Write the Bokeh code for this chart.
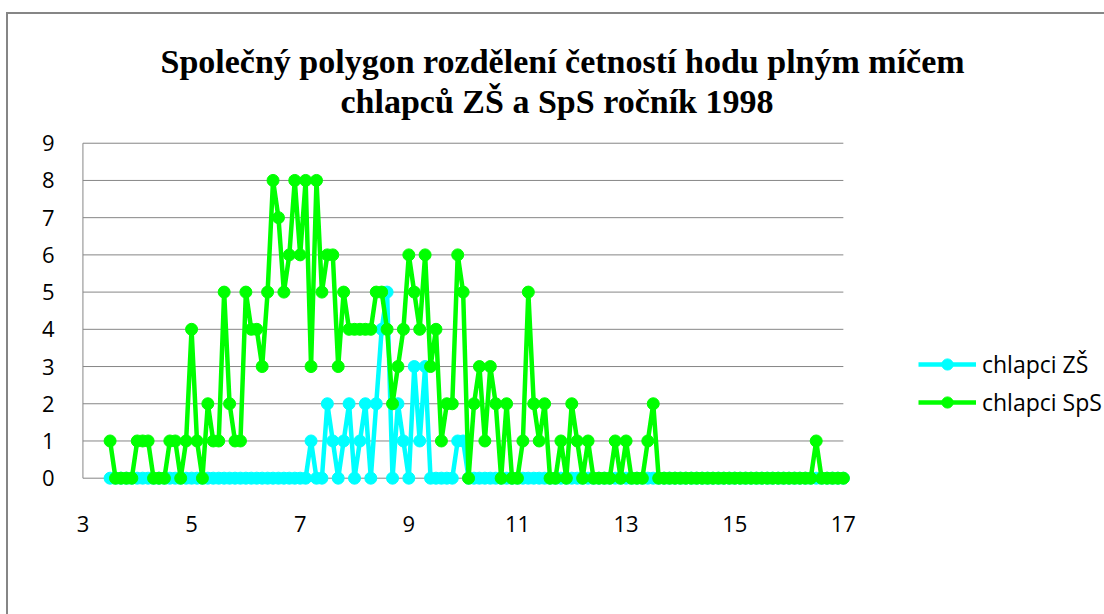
from bokeh.plotting import figure
from bokeh.models import (Range1d, FixedTicker, Title, Legend, LegendItem,
                          ColumnDataSource, InlineStyleSheet)
from bokeh.embed import file_html
from bokeh.resources import INLINE

# ---------------- data ----------------
distances = [
    3.5, 3.6, 3.7, 3.8, 3.9,
    4.0, 4.1, 4.2, 4.3, 4.4, 4.5, 4.6, 4.7, 4.8, 4.9,
    5.0, 5.1, 5.2, 5.3, 5.4, 5.5, 5.6, 5.7, 5.8, 5.9,
    6.0, 6.1, 6.2, 6.3, 6.4, 6.5, 6.6, 6.7, 6.8, 6.9,
    7.0, 7.1, 7.2, 7.3, 7.4, 7.5, 7.6, 7.7, 7.8, 7.9,
    8.0, 8.1, 8.2, 8.3, 8.4, 8.5, 8.6, 8.7, 8.8, 8.9,
    9.0, 9.1, 9.2, 9.3, 9.4, 9.5, 9.6, 9.7, 9.8, 9.9,
    10.0, 10.1, 10.2, 10.3, 10.4, 10.5, 10.6, 10.7, 10.8, 10.9,
    11.0, 11.1, 11.2, 11.3, 11.4, 11.5, 11.6, 11.7, 11.8, 11.9,
    12.0, 12.1, 12.2, 12.3, 12.4, 12.5, 12.6, 12.7, 12.8, 12.9,
    13.0, 13.1, 13.2, 13.3, 13.4, 13.5, 13.6, 13.7, 13.8, 13.9,
    14.0, 14.1, 14.2, 14.3, 14.4, 14.5, 14.6, 14.7, 14.8, 14.9,
    15.0, 15.1, 15.2, 15.3, 15.4, 15.5, 15.6, 15.7, 15.8, 15.9,
    16.0, 16.1, 16.2, 16.3, 16.4, 16.5, 16.6, 16.7, 16.8, 16.9,
    17.0,
]

chlapci_zs = [
    0, 0, 0, 0, 0,
    0, 0, 0, 0, 0, 0, 0, 0, 0, 0,
    0, 0, 0, 0, 0, 0, 0, 0, 0, 0,
    0, 0, 0, 0, 0, 0, 0, 0, 0, 0,
    0, 0, 1, 0, 0, 2, 1, 0, 1, 2,
    0, 1, 2, 0, 2, 4, 5, 0, 2, 1,
    0, 3, 1, 3, 0, 0, 0, 0, 0, 1,
    1, 0, 0, 0, 0, 0, 0, 0, 0, 0,
    0, 0, 0, 0, 0, 0, 0, 0, 0, 0,
    0, 0, 0, 0, 0, 0, 0, 0, 0, 0,
    0, 0, 0, 0, 0, 0, 0, 0, 0, 0,
    0, 0, 0, 0, 0, 0, 0, 0, 0, 0,
    0, 0, 0, 0, 0, 0, 0, 0, 0, 0,
    0, 0, 0, 0, 0, 0, 0, 0, 0, 0,
    0,
]

chlapci_sps = [
    1, 0, 0, 0, 0,
    1, 1, 1, 0, 0, 0, 1, 1, 0, 1,
    4, 1, 0, 2, 1, 1, 5, 2, 1, 1,
    5, 4, 4, 3, 5, 8, 7, 5, 6, 8,
    6, 8, 3, 8, 5, 6, 6, 3, 5, 4,
    4, 4, 4, 4, 5, 5, 4, 2, 3, 4,
    6, 5, 4, 6, 3, 4, 1, 2, 2, 6,
    5, 0, 2, 3, 1, 3, 2, 0, 2, 0,
    0, 1, 5, 2, 1, 2, 0, 0, 1, 0,
    2, 1, 0, 1, 0, 0, 0, 0, 1, 0,
    1, 0, 0, 0, 1, 2, 0, 0, 0, 0,
    0, 0, 0, 0, 0, 0, 0, 0, 0, 0,
    0, 0, 0, 0, 0, 0, 0, 0, 0, 0,
    0, 0, 0, 0, 0, 1, 0, 0, 0, 0,
    0,
]

series_names = ["chlapci ZŠ", "chlapci SpS"]
x_ticks = [3, 5, 7, 9, 11, 13, 15, 17]
y_ticks = [0, 1, 2, 3, 4, 5, 6, 7, 8, 9]
title_line1 = "Společný polygon rozdělení četností hodu plným míčem"
title_line2 = "chlapců ZŠ a SpS ročník 1998"

# ---------------- style ----------------
CYAN = "#00FFFF"
GREEN = "#00FF00"
GRID = "#868686"
TICK_FONT = "Open Sans"
TITLE_FONT = "Liberation Serif"

X_MIN, X_MAX = x_ticks[0], x_ticks[-1]
Y_MIN, Y_MAX = y_ticks[0], y_ticks[-1]

p = figure(
    title=None,
    output_backend="svg", toolbar_location=None,
    x_range=Range1d(2.9, 17.15), y_range=Range1d(-0.25, 9.1),
    frame_width=774, frame_height=348,
    min_border_left=77, min_border_top=139,
    min_border_right=253, min_border_bottom=127,
)
p.outline_line_color = None
p.grid.visible = False
p.background_fill_color = "white"
p.border_fill_color = None
# outer chart border (only its left and top edges lie inside the picture)
p.stylesheets = [InlineStyleSheet(css=(
    ":host {"
    " background-color: white;"
    " background-image: linear-gradient(#868686,#868686), linear-gradient(#868686,#868686);"
    " background-position: 6px 12px, 6px 12px;"
    " background-size: 2px 2000px, 2000px 2px;"
    " background-repeat: no-repeat, no-repeat; }"
))]

# gridlines (horizontal, from x=3 to x=17) and axis lines
gy = y_ticks[1:]
p.segment(x0=[X_MIN] * len(gy), x1=[X_MAX] * len(gy), y0=gy, y1=gy,
          line_color=GRID, line_width=1)
p.segment(x0=[X_MIN], x1=[X_MAX], y0=[Y_MIN], y1=[Y_MIN], line_color=GRID, line_width=1)
p.segment(x0=[X_MIN], x1=[X_MIN], y0=[Y_MIN], y1=[Y_MAX], line_color=GRID, line_width=1)

src = ColumnDataSource(dict(x=distances, zs=chlapci_zs, sps=chlapci_sps))
r1l = p.line("x", "zs", source=src, line_color=CYAN, line_width=4.5)
r1s = p.scatter("x", "zs", source=src, marker="circle", size=12,
                fill_color=CYAN, line_color=CYAN)
r2l = p.line("x", "sps", source=src, line_color=GREEN, line_width=4.5)
r2s = p.scatter("x", "sps", source=src, marker="circle", size=12,
                fill_color=GREEN, line_color=GREEN)

# axes
for ax, ticks, standoff in ((p.xaxis[0], x_ticks, 28), (p.yaxis[0], y_ticks, 23)):
    ax.ticker = FixedTicker(ticks=ticks)
    ax.axis_line_color = None
    ax.major_tick_line_color = None
    ax.minor_tick_line_color = None
    ax.major_tick_out = 0
    ax.major_tick_in = 0
    ax.major_label_standoff = standoff
    ax.major_label_text_font = TICK_FONT
    ax.major_label_text_font_size = "22px"
    ax.major_label_text_color = "black"

# title: two lines, the first added sits next to the frame
for txt, off, so in ((title_line2, 263, 39), (title_line1, 83, -37)):
    p.add_layout(Title(text=txt, align="left", offset=off, standoff=so,
                       vertical_align="bottom",
                       text_font=TITLE_FONT, text_font_size="34px",
                       text_font_style="bold", text_color="black"), "above")

# legend in the right-hand panel
legend = Legend(
    items=[LegendItem(label=series_names[0], renderers=[r1l, r1s]),
           LegendItem(label=series_names[1], renderers=[r2l, r2s])],
    location=(67, 69), padding=0, margin=0,
    border_line_color=None, background_fill_alpha=0,
    glyph_width=58, glyph_height=28, label_height=20, label_standoff=6, spacing=6,
    label_text_font=TICK_FONT, label_text_font_size="23px", label_text_color="black",
)
p.add_layout(legend, "right")

open("out.html", "w").write(file_html(p, INLINE))
